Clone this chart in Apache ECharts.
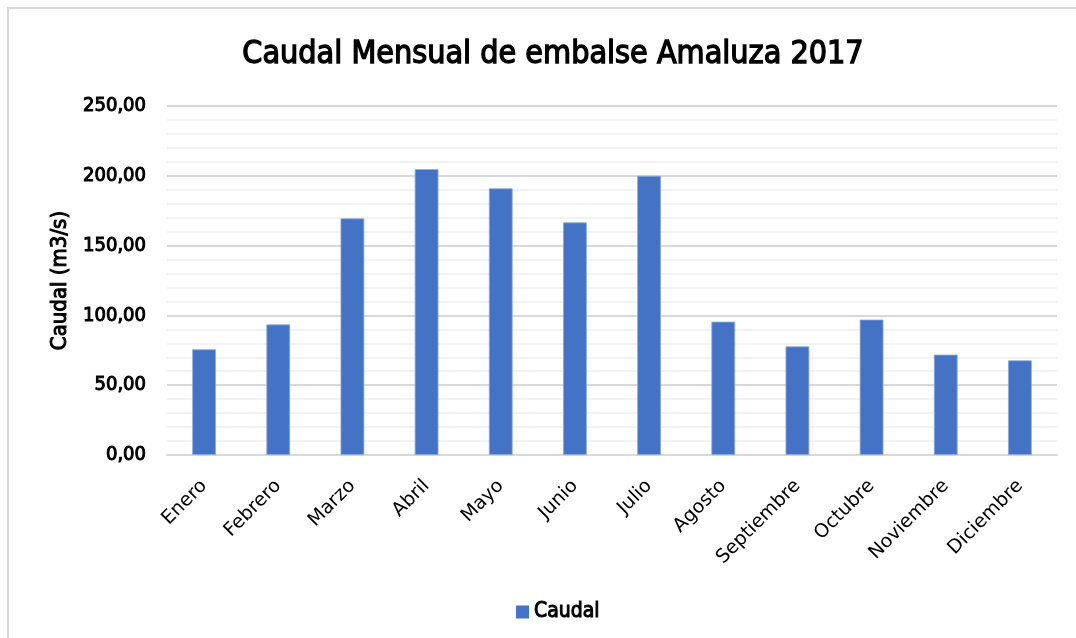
<!DOCTYPE html>
<html>
<head>
<meta charset="utf-8">
<script src="https://cdn.jsdelivr.net/npm/echarts@6/dist/echarts.min.js"></script>
<style>
  html, body { margin: 0; padding: 0; background: #ffffff; }
  #chart { width: 1076px; height: 638px; }
</style>
</head>
<body>
<div id="chart"></div>
<script>
// Monthly flow of the Amaluza reservoir, 2017 (m3/s)
const months = ['Enero', 'Febrero', 'Marzo', 'Abril', 'Mayo', 'Junio',
                'Julio', 'Agosto', 'Septiembre', 'Octubre', 'Noviembre', 'Diciembre'];
const caudal = [75.7, 93.5, 169.5, 204.8, 191.0, 166.6, 200.0, 95.5, 77.8, 97.0, 71.9, 67.8];
const yTicks = [0, 50, 100, 150, 200, 250];

const FONT = '"DejaVu Sans Condensed", "DejaVu Sans", sans-serif';
// a thin outline in the text colour gives the condensed face a medium weight
const medium = w => ({ textBorderColor: '#000000', textBorderWidth: w });
const fmt = v => v.toFixed(2).replace('.', ',');

const chart = echarts.init(document.getElementById('chart'), null, { renderer: 'canvas' });
chart.setOption({
  backgroundColor: '#ffffff',
  animation: false,
  graphic: [{
    type: 'rect',
    shape: { x: 8, y: 8, width: 1200, height: 800 },
    style: { fill: 'none', stroke: '#d9d9d9', lineWidth: 2 },
    silent: true, z: -1
  }],
  title: {
    text: 'Caudal Mensual de embalse Amaluza 2017',
    left: 548, top: 34, textAlign: 'center',
    textStyle: Object.assign({ fontFamily: FONT, fontSize: 32, fontWeight: 'normal', color: '#000000' }, medium(1.3))
  },
  legend: {
    data: ['Caudal'], left: 511, top: 596,
    icon: 'rect', itemWidth: 13, itemHeight: 13, itemGap: 10,
    itemStyle: { borderWidth: 0 },
    textStyle: Object.assign({ fontFamily: FONT, fontSize: 21, color: '#000000' }, medium(1))
  },
  grid: { left: 167, right: 19, top: 106, bottom: 183, containLabel: false },
  xAxis: {
    type: 'category', data: months,
    axisLine: { lineStyle: { color: '#d9d9d9', width: 2 } },
    axisTick: { show: false },
    axisLabel: { rotate: 45, margin: 28, fontFamily: '"DejaVu Sans", sans-serif', fontSize: 19, color: '#000000', interval: 0 }
  },
  yAxis: {
    type: 'value', min: yTicks[0], max: yTicks[yTicks.length - 1], interval: 50,
    name: 'Caudal (m3/s)', nameLocation: 'middle', nameGap: 96, nameRotate: 90,
    nameTextStyle: Object.assign({ fontFamily: FONT, fontSize: 22, color: '#000000' }, medium(1)),
    axisLine: { show: false }, axisTick: { show: false },
    axisLabel: Object.assign({ margin: 21, fontFamily: FONT, fontSize: 20, color: '#000000', formatter: fmt }, medium(1)),
    splitLine: { lineStyle: { color: '#d9d9d9', width: 2 } },
    minorTick: { show: false, splitNumber: 5 },
    minorSplitLine: { show: true, lineStyle: { color: '#f2f2f2', width: 2 } }
  },
  series: [{
    name: 'Caudal', type: 'bar', data: caudal, barWidth: '32%',
    itemStyle: { color: '#4472c4', borderColor: '#8eaadb', borderWidth: 0.8 }
  }]
});
</script>
</body>
</html>
